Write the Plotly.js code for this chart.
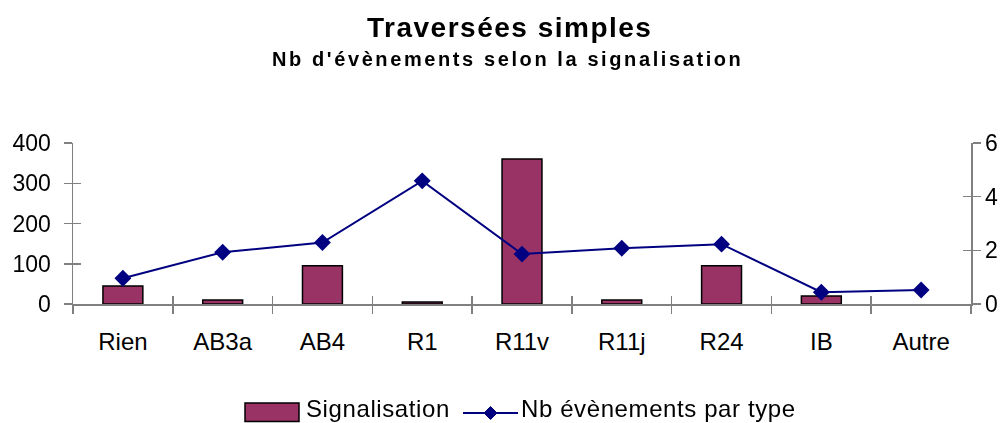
<!DOCTYPE html>
<html><head><meta charset="utf-8">
<script src="https://cdn.plot.ly/plotly-3.0.1.min.js"></script>
<style>html,body{margin:0;padding:0;background:#fff;}#chart{width:1007px;height:423px;}</style>
</head><body><div id="chart"></div>
<script>
const categories = ["Rien","AB3a","AB4","R1","R11v","R11j","R24","IB","Autre"];
const signalisation = [45, 10, 95, 5, 360, 10, 95, 20, null];
const nbEvenements = [0.96, 1.93, 2.29, 4.59, 1.86, 2.08, 2.23, 0.44, 0.52];
const leftTicks = [0, 100, 200, 300, 400];
const rightTicks = [0, 2, 4, 6];
const seriesNames = ["Signalisation", "Nb évènements par type"];
const titleText = "Traversées simples";
const subtitleText = "Nb d'évènements selon la signalisation";

const FONT = "Liberation Sans, Arial, sans-serif";
const AXC = "#808080";
const BAR = "#993366";
const LINE = "#000080";

const W = 1007, H = 423;
const M = {l:73, r:36, t:143, b:119};
const PW = W - M.l - M.r, PH = H - M.t - M.b;
const px = v => (v - M.l) / PW;          // page pixel -> paper x
const py = v => (H - M.b - v) / PH;      // page pixel -> paper y

const data = [
  {type:"bar", name:seriesNames[0], x:categories, y:signalisation, xaxis:"x", yaxis:"y",
   width:0.4, showlegend:false, marker:{color:BAR, line:{color:"#000000", width:1.5}}},
  {type:"scatter", mode:"lines+markers", name:seriesNames[1], x:categories, y:nbEvenements,
   xaxis:"x", yaxis:"y2", showlegend:false, line:{color:LINE, width:2},
   marker:{symbol:"diamond", size:13, color:LINE}},
  {type:"scatter", mode:"markers", x:categories, y:signalisation, xaxis:"x2", yaxis:"y3",
   opacity:0, showlegend:false, hoverinfo:"skip"},
  {type:"scatter", mode:"markers", x:categories, y:nbEvenements, xaxis:"x2", yaxis:"y4",
   opacity:0, showlegend:false, hoverinfo:"skip"}
];

const dx = 6.5 / PW, dy = 6.5 / PH;
const dX = px(490.5), dY = py(413);

const layout = {
  width:W, height:H,
  margin:M,
  paper_bgcolor:"#fff", plot_bgcolor:"rgba(0,0,0,0)",
  font:{family:FONT, size:20, color:"#000"},
  showlegend:false,
  xaxis:{type:"category", categoryarray:categories, range:[-0.5, 8.5], showline:true,
         linecolor:AXC, linewidth:1.5, ticks:"outside", tickson:"boundaries", ticklen:8,
         tickcolor:AXC, tickwidth:1.5, showgrid:false, zeroline:false,
         ticklabelstandoff:16, tickfont:{size:24}, automargin:false},
  yaxis:{range:[0,400], tickvals:leftTicks, showline:true, linecolor:AXC, linewidth:1.5,
         ticks:"outside", ticklen:8, tickcolor:AXC, tickwidth:1.5, showgrid:false,
         zeroline:false, ticklabelstandoff:8, tickfont:{size:23}, automargin:false},
  yaxis2:{range:[0,6], tickvals:rightTicks, overlaying:"y", side:"right", anchor:"x",
          showline:true, linecolor:AXC, linewidth:1.5, ticks:"outside", ticklen:8,
          tickcolor:AXC, tickwidth:1.5, showgrid:false, zeroline:false, tickfont:{size:23},
          automargin:false},
  xaxis2:{type:"category", categoryarray:categories, range:[-0.5, 8.5], overlaying:"x",
          anchor:"y3", ticks:"inside", tickson:"boundaries", ticklen:8, tickcolor:AXC,
          tickwidth:1.5, showticklabels:false, showline:false, showgrid:false, zeroline:false},
  yaxis3:{range:[0,400], tickvals:leftTicks, overlaying:"y", side:"left", anchor:"x2",
          ticks:"inside", ticklen:8, tickcolor:AXC, tickwidth:1.5, showticklabels:false,
          showline:false, showgrid:false, zeroline:false},
  yaxis4:{range:[0,6], tickvals:rightTicks, overlaying:"y", side:"right", anchor:"x2",
          ticks:"inside", ticklen:8, tickcolor:AXC, tickwidth:1.5, showticklabels:false,
          showline:false, showgrid:false, zeroline:false},
  shapes:[
    {type:"rect", xref:"paper", yref:"paper", x0:px(245), x1:px(299), y0:py(421.5), y1:py(403),
     fillcolor:BAR, line:{color:"#000", width:1.5}},
    {type:"line", xref:"paper", yref:"paper", x0:px(463), x1:px(518), y0:py(413), y1:py(413),
     line:{color:LINE, width:2}},
    {type:"path", xref:"paper", yref:"paper",
     path:`M ${dX-dx} ${dY} L ${dX} ${dY+dy} L ${dX+dx} ${dY} L ${dX} ${dY-dy} Z`,
     fillcolor:LINE, line:{color:LINE, width:1}}
  ],
  annotations:[
    {text:`<b><span style="letter-spacing:1.5px">${titleText}</span></b>`, xref:"paper", yref:"paper",
     x:px(509), y:py(27), xanchor:"center", yanchor:"middle", showarrow:false,
     font:{family:FONT, size:28, color:"#000"}},
    {text:`<b><span style="letter-spacing:2.6px">${subtitleText}</span></b>`, xref:"paper", yref:"paper",
     x:px(507), y:py(59), xanchor:"center", yanchor:"middle", showarrow:false,
     font:{family:FONT, size:20, color:"#000"}},
    {text:`<span style="letter-spacing:0.6px">${seriesNames[0]}</span>`, xref:"paper", yref:"paper",
     x:px(304), y:py(408), xanchor:"left", yanchor:"middle", showarrow:false,
     font:{family:FONT, size:24, color:"#000"}},
    {text:`<span style="letter-spacing:0.6px">${seriesNames[1]}</span>`, xref:"paper", yref:"paper",
     x:px(519), y:py(408), xanchor:"left", yanchor:"middle", showarrow:false,
     font:{family:FONT, size:24, color:"#000"}}
  ]
};

Plotly.newPlot("chart", data, layout, {displayModeBar:false, staticPlot:true});
</script></body></html>
